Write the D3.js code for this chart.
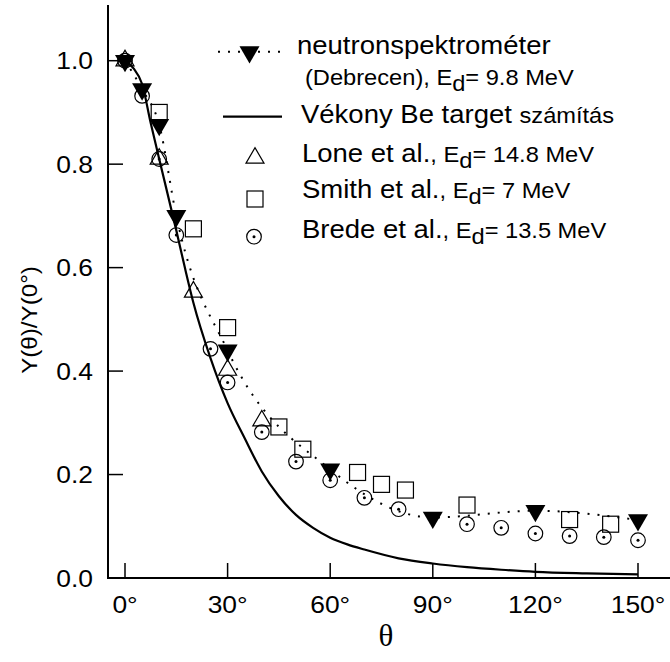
<!DOCTYPE html>
<html><head><meta charset="utf-8">
<script src="https://cdn.jsdelivr.net/npm/d3@7"></script>
<style>body{margin:0;background:#fff}svg{display:block}</style>
</head><body>
<svg id="c" width="670" height="662"></svg>
<script>
// ---- data ----
const xTicks = [0, 30, 60, 90, 120, 150];
const yTicks = [0.0, 0.2, 0.4, 0.6, 0.8, 1.0];

const neutronDeg = [0, 5, 10, 15, 30, 60, 90, 120, 150];
const neutronVal = [1.0, 0.945, 0.876, 0.70, 0.44, 0.21, 0.117, 0.13, 0.112];

const calcDeg = [0, 2.5, 5, 7.5, 10, 15, 17.5, 20, 25, 30, 35, 40, 45, 50, 55, 60, 65, 70, 80, 90, 100, 110, 120, 135, 150];
const calcVal = [1.0, 0.985, 0.955, 0.88, 0.81, 0.672, 0.60, 0.532, 0.425, 0.338, 0.27, 0.206, 0.158, 0.122, 0.097, 0.078, 0.065, 0.055, 0.038, 0.028, 0.021, 0.016, 0.012, 0.009, 0.007];

const loneDeg = [0, 10, 20, 30, 40];
const loneVal = [1.0, 0.81, 0.553, 0.402, 0.304];

const smithDeg = [10, 20, 30, 45, 52, 68, 75, 82, 100, 130, 142];
const smithVal = [0.90, 0.675, 0.484, 0.292, 0.249, 0.204, 0.181, 0.170, 0.141, 0.113, 0.104];

const bredeDeg = [0, 5, 10, 15, 25, 30, 40, 50, 60, 70, 80, 100, 110, 120, 130, 140, 150];
const bredeVal = [1.0, 0.932, 0.81, 0.663, 0.443, 0.378, 0.282, 0.225, 0.189, 0.155, 0.133, 0.104, 0.097, 0.086, 0.081, 0.079, 0.073];

// ---- layout ----
const svg = d3.select("#c");
const SX = 1.1;              // horizontal text stretch of the original
const FONT = "Liberation Sans, Arial, sans-serif";
const BIG = 25, SMALL = 21.5;
const x = d3.scaleLinear().domain([0, 150]).range([125, 638]);
const y = d3.scaleLinear().domain([0, 1]).range([578, 60.7]);
const axisLeftX = 108, axisRightX = 670, axisTopY = 5;

function txt(g, xx, yy, anchor, size) {
  return g.append("text")
    .attr("transform", `translate(${xx},${yy}) scale(${SX},1)`)
    .attr("text-anchor", anchor)
    .attr("font-family", FONT)
    .attr("font-size", size)
    .attr("fill", "#000");
}

// axes
const ax = svg.append("g");
ax.append("line").attr("x1", axisLeftX).attr("x2", axisLeftX).attr("y1", axisTopY).attr("y2", y(0))
  .attr("stroke", "#000").attr("stroke-width", 2);
ax.append("line").attr("x1", axisLeftX - 1).attr("x2", axisRightX).attr("y1", y(0)).attr("y2", y(0))
  .attr("stroke", "#000").attr("stroke-width", 2);
yTicks.forEach(v => {
  if (v > 0) ax.append("line").attr("x1", axisLeftX).attr("x2", axisLeftX + 15)
    .attr("y1", y(v)).attr("y2", y(v)).attr("stroke", "#000").attr("stroke-width", 1.5);
  txt(ax, 93, y(v) + 8.5, "end", 24).text(d3.format(".1f")(v));
});
xTicks.forEach(v => {
  ax.append("line").attr("x1", x(v)).attr("x2", x(v)).attr("y1", y(0)).attr("y2", y(0) - 15)
    .attr("stroke", "#000").attr("stroke-width", 1.5);
  txt(ax, x(v), 613, "middle", 24).text(v + "°");
});
// axis titles
svg.append("text").attr("transform", `translate(37,320) rotate(-90) scale(${SX},1)`)
  .attr("text-anchor", "middle").attr("font-family", FONT).attr("font-size", 22).text("Y(θ)/Y(0°)");
svg.append("text").attr("x", 386).attr("y", 646).attr("text-anchor", "middle")
  .attr("font-family", "Liberation Serif, Times New Roman, serif").attr("font-size", 31).text("θ");

// marker shapes
function downTri(g, cx, cy) {
  g.append("path").attr("d", `M${cx - 10},${cy - 5.8}L${cx + 10},${cy - 5.8}L${cx},${cy + 11.5}Z`).attr("fill", "#000");
}
function upTri(g, cx, cy) {
  g.append("path").attr("d", `M${cx - 9},${cy + 5.2}L${cx + 9},${cy + 5.2}L${cx},${cy - 10.4}Z`)
    .attr("fill", "none").attr("stroke", "#000").attr("stroke-width", 1.2);
}
function square(g, cx, cy) {
  g.append("rect").attr("x", cx - 8).attr("y", cy - 8).attr("width", 16).attr("height", 16)
    .attr("fill", "none").attr("stroke", "#000").attr("stroke-width", 1.2);
}
function dotCircle(g, cx, cy) {
  g.append("circle").attr("cx", cx).attr("cy", cy).attr("r", 7.3)
    .attr("fill", "none").attr("stroke", "#000").attr("stroke-width", 1.2);
  g.append("circle").attr("cx", cx).attr("cy", cy).attr("r", 1.5).attr("fill", "#000");
}

const plot = svg.append("g");
// calculation curve
const calcPts = calcDeg.map((d, i) => [x(d), y(calcVal[i])]);
plot.append("path").attr("d", d3.line().curve(d3.curveMonotoneX)(calcPts))
  .attr("fill", "none").attr("stroke", "#000").attr("stroke-width", 2.2);
// neutron dotted curve
const nPts = neutronDeg.map((d, i) => [x(d), y(neutronVal[i])]);
plot.append("path").attr("d", d3.line().curve(d3.curveMonotoneX)(nPts))
  .attr("fill", "none").attr("stroke", "#000").attr("stroke-width", 2).attr("stroke-dasharray", "2,8");

smithDeg.forEach((d, i) => square(plot, x(d), y(smithVal[i])));
bredeDeg.forEach((d, i) => dotCircle(plot, x(d), y(bredeVal[i])));
loneDeg.forEach((d, i) => upTri(plot, x(d), y(loneVal[i])));
neutronDeg.forEach((d, i) => downTri(plot, x(d), y(neutronVal[i])));

// legend
const lg = svg.append("g");
lg.append("line").attr("x1", 218).attr("x2", 282).attr("y1", 51.7).attr("y2", 51.7)
  .attr("stroke", "#000").attr("stroke-width", 2).attr("stroke-dasharray", "2,8");
downTri(lg, 249.5, 52);
txt(lg, 297, 54, "start", BIG).text("neutronspektrométer");
function subLine(xx, yy, big, small, sub, rest) {
  const t = txt(lg, xx, yy, "start", BIG);
  if (big) t.append("tspan").text(big);
  t.append("tspan").attr("font-size", SMALL).text(small);
  t.append("tspan").attr("font-size", SMALL).attr("dy", 6).text(sub);
  t.append("tspan").attr("font-size", SMALL).attr("dy", -6).text(rest);
}
subLine(305, 85, "", "(Debrecen), E", "d", "= 9.8 MeV");
lg.append("line").attr("x1", 223).attr("x2", 282).attr("y1", 116.7).attr("y2", 116.7)
  .attr("stroke", "#000").attr("stroke-width", 2.2);
const t3 = txt(lg, 301, 123, "start", BIG);
t3.append("tspan").text("Vékony Be target ");
t3.append("tspan").attr("font-size", SMALL).text("számítás");
upTri(lg, 255, 158);
subLine(302, 161.5, "Lone et al.", ", E", "d", "= 14.8 MeV");
square(lg, 255, 199);
subLine(302, 198, "Smith et al.", ", E", "d", "= 7 MeV");
dotCircle(lg, 254, 236.7);
subLine(302, 238, "Brede et al.", ", E", "d", "= 13.5 MeV");
</script>
</body></html>
